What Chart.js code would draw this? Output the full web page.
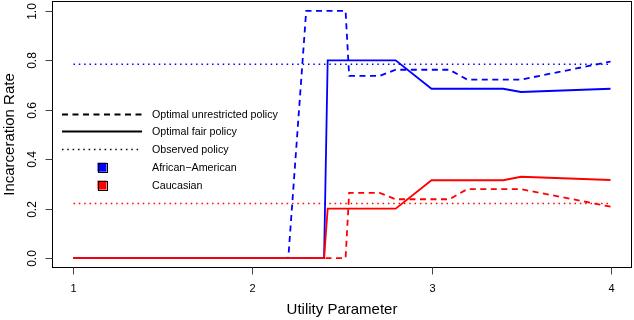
<!DOCTYPE html>
<html>
<head>
<meta charset="utf-8">
<script src="https://cdn.jsdelivr.net/npm/chart.js@4"></script>
<style>
  html, body { margin: 0; padding: 0; background: #fff; }
  #wrap { width: 634px; height: 320px; }
</style>
</head>
<body>
<div id="wrap"><canvas id="chart" width="634" height="320"></canvas></div>
<script>
// ===== Data =====
const xTicks = [1, 2, 3, 4];
const yTicks = [0, 0.2, 0.4, 0.6, 0.8, 1.0];

// optimal unrestricted policy (dashed)
const unrestrictedX     = [1, 2.2, 2.3, 2.52, 2.54, 2.71, 2.8, 3.1, 3.2, 3.5, 4.0];
const unrestrictedBlack = [0, 0, 1.0, 1.0, 0.737, 0.737, 0.762, 0.762, 0.722, 0.722, 0.795];
const unrestrictedWhite = [0, 0, 0, 0, 0.264, 0.264, 0.238, 0.238, 0.279, 0.279, 0.208];

// optimal fair policy (solid)
const fairX     = [1, 2.4, 2.42, 2.8, 3.0, 3.4, 3.5, 4.0];
const fairBlack = [0, 0, 0.80, 0.80, 0.685, 0.685, 0.672, 0.685];
const fairWhite = [0, 0, 0.20, 0.20, 0.315, 0.315, 0.329, 0.316];

// observed policy (dotted)
const observedX     = [1, 4];
const observedBlack = [0.784, 0.784];
const observedWhite = [0.221, 0.221];

const legendLines = ['Optimal unrestricted policy', 'Optimal fair policy', 'Observed policy'];
const legendGroups = ['African\u2212American', 'Caucasian'];

// ===== Styles =====
const BLUE = '#0000ff';
const RED  = '#ff0000';
const FONT = '"Liberation Sans", Arial, Helvetica, sans-serif';
const DASH = [6, 4.5];
const DOT  = [1.5, 3.83];
const LW   = 1.8;

const pts = (xs, ys) => xs.map((x, i) => ({ x, y: ys[i] }));

function series(xs, ys, color, dash, width) {
  return {
    data: pts(xs, ys),
    borderColor: color,
    borderWidth: width,
    borderDash: dash,
    borderCapStyle: 'butt',
    pointRadius: 0,
    tension: 0,
    fill: false
  };
}

// ===== R-style axes, box and legend =====
const rStyle = {
  id: 'rStyle',
  afterDraw(chart) {
    const { ctx, chartArea: a, scales } = chart;
    const L = Math.round(a.left) + 0.5, T = Math.round(a.top) + 0.5;
    const R = Math.round(a.right) - 0.5, B = Math.round(a.bottom) - 0.5;
    ctx.save();

    // box
    ctx.strokeStyle = '#000';
    ctx.lineWidth = 1;
    ctx.setLineDash([]);
    ctx.strokeRect(L, T, R - L, B - T);

    // x axis ticks + labels
    ctx.fillStyle = '#000';
    ctx.strokeStyle = '#444';
    ctx.font = '11px ' + FONT;
    ctx.textAlign = 'center';
    ctx.textBaseline = 'alphabetic';
    xTicks.forEach(v => {
      const px = Math.round(scales.x.getPixelForValue(v)) + 0.5;
      ctx.beginPath(); ctx.moveTo(px, B); ctx.lineTo(px, B + 7); ctx.stroke();
      ctx.fillText(String(v), px, 291.5);
    });

    // y axis ticks + rotated labels
    ctx.font = '12px ' + FONT;
    yTicks.forEach(v => {
      const py = Math.round(scales.y.getPixelForValue(v)) + 0.5;
      ctx.beginPath(); ctx.moveTo(L - 7, py); ctx.lineTo(L, py); ctx.stroke();
      ctx.save();
      ctx.translate(36, py);
      ctx.rotate(-Math.PI / 2);
      ctx.fillText(v.toFixed(1), 0, 0);
      ctx.restore();
    });

    // axis titles
    ctx.font = '15px ' + FONT;
    ctx.fillText('Utility Parameter', (a.left + a.right) / 2, 314);
    ctx.save();
    ctx.translate(13.5, (a.top + a.bottom) / 2);
    ctx.rotate(-Math.PI / 2);
    ctx.fillText('Incarceration Rate', 0, 0);
    ctx.restore();

    // legend
    const rowY = i => 113.5 + i * 17.9;
    const x0 = a.left + 10, x1 = a.left + 90, tx = a.left + 100;
    ctx.font = '10.7px ' + FONT;
    ctx.textAlign = 'left';
    [DASH, [], DOT].forEach((d, i) => {
      const y = Math.round(rowY(i)) + 0.5;
      ctx.strokeStyle = '#000';
      ctx.lineWidth = d === DOT ? 1.5 : LW;
      ctx.setLineDash(d);
      ctx.beginPath(); ctx.moveTo(x0, y); ctx.lineTo(x1, y); ctx.stroke();
      ctx.fillText(legendLines[i], tx, rowY(i) + 4);
    });
    ctx.setLineDash([]);
    ctx.lineWidth = 1;
    [BLUE, RED].forEach((c, j) => {
      const y = rowY(3 + j);
      const cx = a.left + 50;
      ctx.fillStyle = c;
      ctx.fillRect(cx - 4.5, y - 4.5, 9, 9);
      ctx.strokeStyle = '#000';
      ctx.strokeRect(Math.round(cx - 4.5) + 0.5, Math.round(y - 4.5) + 0.5, 9, 9);
      ctx.fillStyle = '#000';
      ctx.fillText(legendGroups[j], tx, y + 4);
    });

    ctx.restore();
  }
};

// Chart.js paints the first dataset on top, so the red series come first
new Chart(document.getElementById('chart'), {
  type: 'line',
  data: {
    datasets: [
      series(fairX, fairWhite, RED, [], LW),
      series(unrestrictedX, unrestrictedWhite, RED, DASH, LW),
      series(fairX, fairBlack, BLUE, [], LW),
      series(unrestrictedX, unrestrictedBlack, BLUE, DASH, LW),
      series(observedX, observedWhite, RED, DOT, 1.5),
      series(observedX, observedBlack, BLUE, DOT, 1.5)
    ]
  },
  options: {
    responsive: false,
    animation: false,
    devicePixelRatio: 1,
    layout: { padding: { left: 52, top: 1, right: 2, bottom: 52 } },
    plugins: { legend: { display: false }, tooltip: { enabled: false } },
    scales: {
      x: { type: 'linear', min: 0.88, max: 4.12, display: false },
      y: { type: 'linear', min: -0.04, max: 1.04, display: false }
    }
  },
  plugins: [rStyle]
});
</script>
</body>
</html>
